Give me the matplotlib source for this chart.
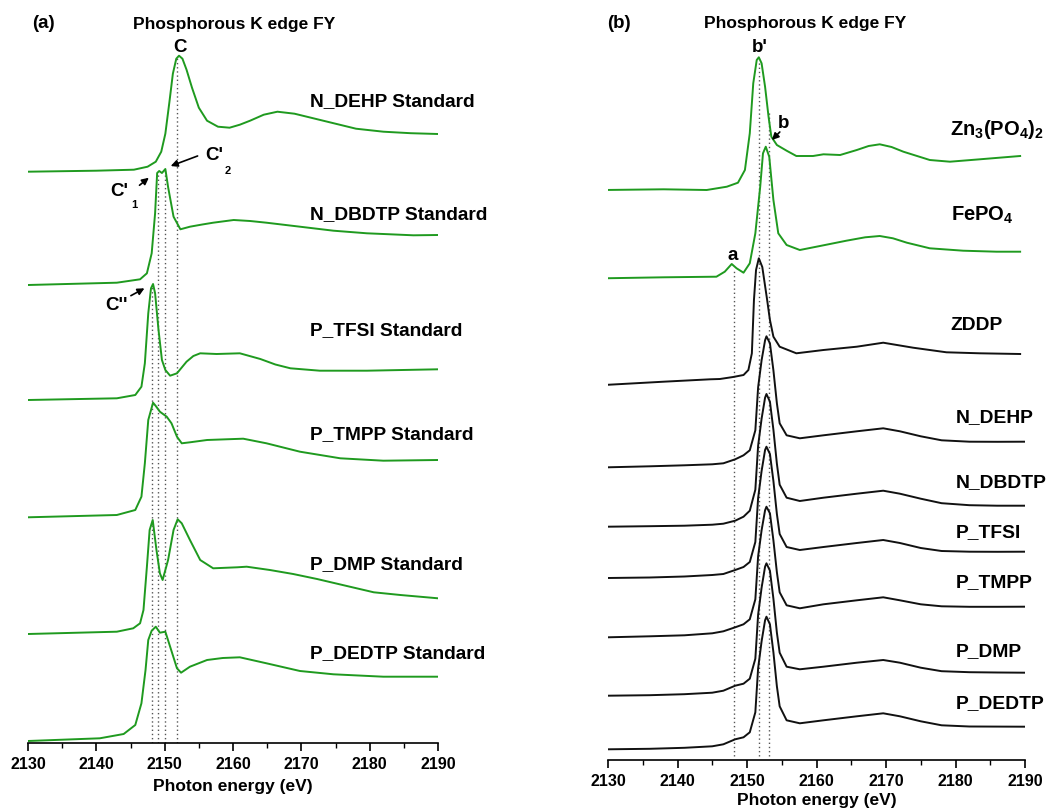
import matplotlib
matplotlib.use("Agg")
import matplotlib.pyplot as plt
from matplotlib.ticker import MultipleLocator

plt.rcParams['font.family'] = ['Liberation Sans', 'DejaVu Sans']
plt.rcParams['font.weight'] = 'bold'
plt.rcParams['mathtext.fontset'] = 'custom'
plt.rcParams['mathtext.rm'] = 'Liberation Sans:bold'
plt.rcParams['mathtext.bf'] = 'Liberation Sans:bold'
plt.rcParams['mathtext.default'] = 'bf'

GREEN = '#1f9a1f'
BLACK = '#111111'

# ---------------- panel (a): standards, P K-edge FY ----------------
a_dehp_e = [2130, 2140, 2145.5, 2147.5, 2148.7, 2149.5, 2150.1, 2150.7, 2151.2, 2151.7, 2152.1, 2152.6,
            2153.2, 2154.0, 2155.0, 2156.2, 2157.8, 2159.5, 2161.0, 2162.5, 2164.5, 2166.5, 2169.0,
            2172.0, 2175.0, 2178.0, 2182.0, 2186.0, 2190]
a_dehp_i = [0.00, 0.01, 0.02, 0.05, 0.10, 0.20, 0.38, 0.70, 0.98, 1.13, 1.16, 1.13,
            1.02, 0.84, 0.64, 0.51, 0.45, 0.44, 0.47, 0.51, 0.57, 0.60, 0.58,
            0.53, 0.48, 0.43, 0.40, 0.385, 0.377]

a_dbdtp_e = [2130, 2143, 2146.4, 2147.4, 2148.1, 2148.6, 2148.9, 2149.2, 2149.6, 2150.1, 2150.5, 2151.3,
             2152.3, 2153.7, 2155.5, 2157.1, 2160.1, 2162.5, 2164.9, 2169.8, 2174.7, 2179.6, 2186.4, 2190]
a_dbdtp_i = [0.00, 0.023, 0.057, 0.117, 0.317, 0.717, 1.12, 1.14, 1.12, 1.16, 0.98, 0.683,
             0.557, 0.583, 0.605, 0.623, 0.65, 0.64, 0.623, 0.583, 0.543, 0.517, 0.497, 0.50]

a_tfsi_e = [2130, 2143, 2145.7, 2146.6, 2147.1, 2147.6, 2148.0, 2148.3, 2148.6, 2149.1, 2149.6, 2150.1,
            2150.8, 2151.8, 2153.2, 2154.2, 2155.2, 2157.6, 2161.0, 2164.0, 2166.2, 2168.4, 2172.7, 2179.6, 2190]
a_tfsi_i = [0.00, 0.017, 0.05, 0.133, 0.367, 0.867, 1.117, 1.16, 1.067, 0.70, 0.40, 0.30,
            0.243, 0.267, 0.383, 0.44, 0.467, 0.46, 0.467, 0.41, 0.355, 0.317, 0.293, 0.293, 0.307]

a_tmpp_e = [2130, 2143, 2145.7, 2146.6, 2147.1, 2147.6, 2148.3, 2148.7, 2149.3, 2150.3, 2151.0, 2151.8,
            2152.5, 2153.7, 2156.2, 2159.0, 2161.5, 2164.9, 2169.8, 2175.7, 2182.0, 2190]
a_tmpp_i = [0.00, 0.023, 0.073, 0.206, 0.54, 0.973, 1.146, 1.113, 1.056, 1.006, 0.94, 0.806,
            0.74, 0.75, 0.773, 0.78, 0.786, 0.74, 0.656, 0.59, 0.566, 0.573]

a_dmp_e = [2130, 2143, 2145.4, 2146.4, 2146.9, 2147.4, 2147.8, 2148.25, 2148.8, 2149.3, 2149.7, 2150.5,
           2151.3, 2151.9, 2152.5, 2153.7, 2155.2, 2157.1, 2160.6, 2162.0, 2165.4, 2168.8, 2172.3,
           2177.1, 2180.6, 2184.5, 2190]
a_dmp_i = [0.00, 0.023, 0.057, 0.107, 0.24, 0.673, 1.04, 1.14, 0.84, 0.607, 0.54, 0.74,
           1.04, 1.147, 1.107, 0.94, 0.74, 0.657, 0.667, 0.673, 0.64, 0.60, 0.55,
           0.473, 0.417, 0.39, 0.357]

a_dedtp_e = [2130, 2140.5, 2144, 2145.7, 2146.6, 2147.2, 2147.6, 2148.1, 2148.7, 2149.3, 2150.1, 2150.8,
             2151.8, 2152.4, 2153.7, 2156.2, 2158.5, 2161.0, 2164.9, 2169.8, 2174.7, 2182.0, 2190]
a_dedtp_i = [0.00, 0.027, 0.07, 0.16, 0.377, 0.71, 1.01, 1.103, 1.143, 1.083, 1.093, 0.943,
             0.727, 0.683, 0.743, 0.81, 0.83, 0.837, 0.777, 0.70, 0.667, 0.643, 0.643]

a_names = ['N_DEHP Standard', 'N_DBDTP Standard', 'P_TFSI Standard',
           'P_TMPP Standard', 'P_DMP Standard', 'P_DEDTP Standard']
a_offsets = [5.713, 4.58, 3.43, 2.257, 1.09, 0.02]
a_label_y = [6.41, 5.28, 4.12, 3.08, 1.78, 0.89]

# peak markers C'' , C'1, C'2, C  (energy, top of dotted line)
a_mark_e = [2148.2, 2149.0, 2150.0, 2151.8]
a_mark_top = [4.58, 5.70, 5.72, 6.85]

# ---------------- panel (b): references and samples ----------------
b_zn_e = [2129.4, 2138, 2144.2, 2147.1, 2148.7, 2149.7, 2150.4, 2150.9, 2151.4, 2151.7, 2152.1, 2152.6,
          2153.1, 2153.5, 2154.3, 2155.7, 2157.1, 2159.5, 2161.0, 2163.4, 2165.8, 2167.5, 2169.1, 2170.8,
          2172.5, 2176.3, 2179.2, 2183.5, 2189.3]
b_zn_i = [0.00, 0.007, 0.00, 0.033, 0.073, 0.20, 0.567, 1.067, 1.30, 1.327, 1.267, 1.033,
          0.733, 0.533, 0.45, 0.393, 0.34, 0.34, 0.357, 0.35, 0.40, 0.44, 0.457, 0.43,
          0.383, 0.30, 0.283, 0.307, 0.34]

b_fe_e = [2129.4, 2138, 2145.6, 2146.8, 2147.8, 2148.5, 2149.5, 2150.4, 2151.2, 2151.9, 2152.3, 2152.7,
          2153.2, 2153.8, 2154.5, 2155.7, 2157.6, 2160.5, 2164.3, 2167.0, 2169.1, 2171.0, 2173.0, 2176.3,
          2181.1, 2185.9, 2189.3]
b_fe_i = [0.00, 0.01, 0.016, 0.066, 0.143, 0.10, 0.056, 0.15, 0.45, 0.916, 1.25, 1.316,
          1.216, 0.783, 0.45, 0.333, 0.283, 0.323, 0.376, 0.41, 0.423, 0.40, 0.356, 0.30,
          0.276, 0.266, 0.266]

b_zddp_e = [2129.4, 2138, 2144.7, 2146.1, 2148.0, 2149.5, 2150.2, 2150.7, 2151.0, 2151.3, 2151.7, 2152.2,
            2152.9, 2153.3, 2153.8, 2154.7, 2157.1, 2161.0, 2165.8, 2169.6, 2173.9, 2178.7, 2183.5,
            2189.3]
b_zddp_i = [0.00, 0.033, 0.057, 0.06, 0.08, 0.10, 0.15, 0.317, 0.85, 1.15, 1.267, 1.18,
            0.85, 0.65, 0.483, 0.383, 0.317, 0.35, 0.383, 0.423, 0.373, 0.327, 0.317,
            0.31]

# the six samples share the same energy points
b_samp_e = [2130, 2136, 2141, 2145, 2146.6, 2148.3, 2149.5, 2150.4, 2151.2, 2151.6, 2152.1, 2152.6,
            2152.8, 2153.3, 2153.8, 2154.3, 2154.7, 2155.7, 2157.6, 2161.0, 2165.8, 2169.6, 2172.0,
            2175.0, 2178.0, 2182.0, 2186.0, 2190]
b_dehp_i = [0.00, 0.01, 0.02, 0.03, 0.04, 0.08, 0.12, 0.17, 0.37, 0.80, 1.07, 1.27,
            1.31, 1.24, 0.97, 0.64, 0.44, 0.32, 0.29, 0.32, 0.36, 0.39, 0.36,
            0.31, 0.27, 0.256, 0.255, 0.256]
b_dbdtp_i = [0.00, 0.005, 0.01, 0.02, 0.03, 0.06, 0.10, 0.16, 0.37, 0.81, 1.08, 1.29,
             1.327, 1.25, 0.97, 0.63, 0.42, 0.29, 0.257, 0.29, 0.33, 0.36, 0.33,
             0.28, 0.235, 0.215, 0.21, 0.21]
b_tfsi_i = [0.00, 0.005, 0.015, 0.03, 0.04, 0.08, 0.11, 0.16, 0.36, 0.80, 1.07, 1.28,
            1.313, 1.24, 0.97, 0.64, 0.44, 0.31, 0.28, 0.31, 0.35, 0.38, 0.35,
            0.30, 0.27, 0.263, 0.262, 0.263]
b_tmpp_i = [0.00, 0.01, 0.02, 0.04, 0.06, 0.10, 0.13, 0.18, 0.38, 0.81, 1.07, 1.27,
            1.306, 1.24, 0.97, 0.65, 0.45, 0.32, 0.29, 0.33, 0.37, 0.40, 0.37,
            0.33, 0.31, 0.305, 0.305, 0.306]
b_dmp_i = [0.00, 0.005, 0.015, 0.03, 0.05, 0.10, 0.12, 0.17, 0.37, 0.81, 1.08, 1.29,
           1.324, 1.25, 0.97, 0.63, 0.43, 0.29, 0.264, 0.29, 0.33, 0.357, 0.33,
           0.28, 0.245, 0.235, 0.232, 0.23]
b_dedtp_i = [0.00, 0.005, 0.015, 0.03, 0.05, 0.10, 0.12, 0.17, 0.37, 0.81, 1.08, 1.29,
             1.326, 1.25, 0.97, 0.63, 0.43, 0.29, 0.26, 0.29, 0.33, 0.36, 0.33,
             0.28, 0.24, 0.228, 0.227, 0.226]

b_names = [r'Zn$_3$(PO$_4$)$_2$', r'FePO$_4$', 'ZDDP', 'N_DEHP', 'N_DBDTP',
           'P_TFSI', 'P_TMPP', 'P_DMP', 'P_DEDTP']
b_offsets = [5.70, 4.817, 3.75, 2.927, 2.333, 1.82, 1.227, 0.643, 0.107]
b_label_y = [6.30, 5.45, 4.34, 3.42, 2.77, 2.27, 1.77, 1.08, 0.56]
b_label_x = [2179.2, 2179.4, 2179.2, 2180.0, 2180.0, 2180.0, 2180.0, 2180.0, 2180.0]
b_label_fs = [14.5, 14.5, 13.9, 13.9, 13.9, 13.9, 13.9, 13.9, 13.9]

# peak markers a, b', b
b_mark_e = [2148.2, 2151.7, 2153.2]
b_mark_top = [4.90, 7.00, 6.48]


def style_axis(ax, top, lpad):
    ax.set_xlim(2130, 2190)
    ax.set_ylim(0, top)
    for s in ['left', 'right', 'top']:
        ax.spines[s].set_visible(False)
    ax.spines['bottom'].set_linewidth(1.2)
    ax.set_yticks([])
    ax.xaxis.set_major_locator(MultipleLocator(10))
    ax.xaxis.set_minor_locator(MultipleLocator(5))
    ax.tick_params(axis='x', which='major', direction='out', length=6, width=1.2, labelsize=11.5, pad=4)
    ax.tick_params(axis='x', which='minor', direction='out', length=3.5, width=1.0)
    for t in ax.get_xticklabels():
        t.set_fontweight('bold')
    ax.set_xlabel('Photon energy (eV)', fontsize=12.5, fontweight='bold', labelpad=lpad)


def arrow(ax, tip, tail):
    ax.annotate('', xy=tip, xytext=tail,
                arrowprops=dict(arrowstyle='-|>', color='black', lw=1.2, mutation_scale=10))


W, H = 1051, 808
fig = plt.figure(figsize=(W / 100, H / 100), dpi=100)

# panel (a)
axa = fig.add_axes([28 / W, 1 - 743 / H, 410 / W, 733 / H])
a_curves = [(a_dehp_e, a_dehp_i), (a_dbdtp_e, a_dbdtp_i), (a_tfsi_e, a_tfsi_i),
            (a_tmpp_e, a_tmpp_i), (a_dmp_e, a_dmp_i), (a_dedtp_e, a_dedtp_i)]
for e, top in zip(a_mark_e, a_mark_top):
    axa.plot([e, e], [0, top], ls=(0, (1, 2)), color='#555555', lw=1.0)
for (e, i), off, name, ly in zip(a_curves, a_offsets, a_names, a_label_y):
    axa.plot(e, [v + off for v in i], color=GREEN, lw=1.4)
    axa.text(2171.3, ly, name, fontsize=13.8, fontweight='bold', va='center', ha='left')
style_axis(axa, 7.33, 5)
axa.text(2132.2, 7.19, '(a)', fontsize=13.5, fontweight='bold', va='center', ha='center')
axa.text(2160.2, 7.19, 'Phosphorous K edge FY', fontsize=12.5, fontweight='bold', va='center', ha='center')
axa.text(2152.2, 6.96, 'C', fontsize=13.5, fontweight='bold', va='center', ha='center')
arrow(axa, (2148.0, 5.67), (2146.0, 5.56))
axa.text(2143.3, 5.51, "C'", fontsize=13.5, fontweight='bold', va='center', ha='center')
axa.text(2145.6, 5.38, '1', fontsize=8, fontweight='bold', va='center', ha='center')
arrow(axa, (2150.5, 5.76), (2155.2, 5.88))
axa.text(2157.3, 5.87, "C'", fontsize=13.5, fontweight='bold', va='center', ha='center')
axa.text(2159.3, 5.72, '2', fontsize=8, fontweight='bold', va='center', ha='center')
arrow(axa, (2147.4, 4.56), (2144.7, 4.46))
axa.text(2142.9, 4.38, "C''", fontsize=13.5, fontweight='bold', va='center', ha='center')

# panel (b)
axb = fig.add_axes([608 / W, 1 - 760 / H, 417 / W, 750 / H])
b_curves = [(b_zn_e, b_zn_i), (b_fe_e, b_fe_i), (b_zddp_e, b_zddp_i),
            (b_samp_e, b_dehp_i), (b_samp_e, b_dbdtp_i), (b_samp_e, b_tfsi_i),
            (b_samp_e, b_tmpp_i), (b_samp_e, b_dmp_i), (b_samp_e, b_dedtp_i)]
b_colors = [GREEN, GREEN] + [BLACK] * 7
for e, top in zip(b_mark_e, b_mark_top):
    axb.plot([e, e], [0.04, top], ls=(0, (1, 2)), color='#555555', lw=1.0)
for (e, i), off, name, ly, lx, fs, c in zip(b_curves, b_offsets, b_names, b_label_y,
                                            b_label_x, b_label_fs, b_colors):
    axb.plot(e, [v + off for v in i], color=c, lw=1.4)
    axb.text(lx, ly, name, fontsize=fs, fontweight='bold', va='center', ha='left')
style_axis(axb, 7.5, 3)
axb.text(2131.6, 7.36, '(b)', fontsize=13.5, fontweight='bold', va='center', ha='center')
axb.text(2158.3, 7.36, 'Phosphorous K edge FY', fontsize=12.5, fontweight='bold', va='center', ha='center')
axb.text(2151.8, 7.12, "b'", fontsize=13.5, fontweight='bold', va='center', ha='center')
axb.text(2155.3, 6.36, 'b', fontsize=13.5, fontweight='bold', va='center', ha='center')
arrow(axb, (2153.3, 6.18), (2155.0, 6.30))
axb.text(2148.0, 5.04, 'a', fontsize=13.5, fontweight='bold', va='center', ha='center')

fig.savefig('out.png', dpi=100)
